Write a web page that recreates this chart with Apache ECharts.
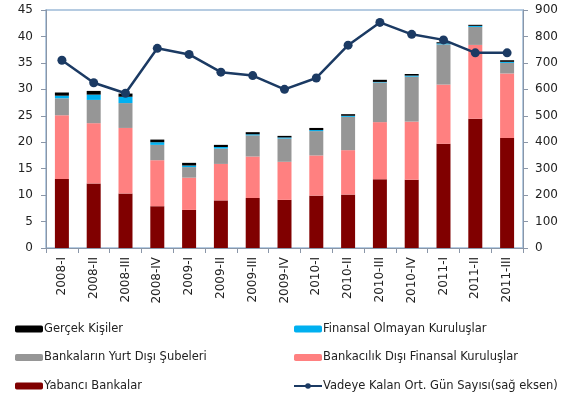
<!DOCTYPE html>
<html>
<head>
<meta charset="utf-8">
<script src="https://cdn.jsdelivr.net/npm/echarts@6/dist/echarts.min.js"></script>
<style>
  html, body { margin: 0; padding: 0; background: #fff; }
  #chart { width: 565px; height: 398px; }
</style>
</head>
<body>
<div id="chart"></div>
<script>
// Quarterly periods
const categories = ['2008-I','2008-II','2008-III','2008-IV','2009-I','2009-II','2009-III','2009-IV',
                    '2010-I','2010-II','2010-III','2010-IV','2011-I','2011-II','2011-III'];

// Stacked components (left axis)
const yabanciBankalar   = [13.05, 12.2, 10.3, 7.9, 7.2, 9.0, 9.45, 9.1, 9.9, 10.1, 13.0, 12.9, 19.7, 24.45, 20.8];
const bankacilikDisi    = [12.05, 11.4, 12.4, 8.7, 6.1, 6.9, 7.85, 7.2, 7.6, 8.4, 10.8, 11.0, 11.2, 13.95, 12.2];
const yurtDisiSubeler   = [3.2, 4.4, 4.7, 2.9, 2.0, 2.9, 4.0, 4.4, 4.6, 6.3, 7.5, 8.5, 7.6, 3.4, 2.0];
const finansalOlmayan   = [0.5, 1.0, 1.2, 0.5, 0.3, 0.3, 0.2, 0.2, 0.2, 0.2, 0.1, 0.2, 0.2, 0.2, 0.2];
const gercekKisiler     = [0.6, 0.7, 0.6, 0.5, 0.5, 0.4, 0.4, 0.3, 0.4, 0.3, 0.4, 0.3, 0.2, 0.2, 0.3];

// Average days to maturity (right axis)
const vadeyeKalanGun    = [710, 625, 585, 755, 732, 665, 652, 600, 643, 767, 853, 808, 787, 738, 738];

const FONT = '"DejaVu Sans", sans-serif';
const chart = echarts.init(document.getElementById('chart'), null, { renderer: 'canvas' });

const axisLineStyle = { color: '#8a96a8', width: 1 };
const legendText = { fontFamily: FONT, fontSize: 11.5, color: '#222', padding: [0, 0, 0, -4] };

function barSeries(name, data, color) {
  return {
    name, type: 'bar', stack: 'total', data,
    barWidth: '44%',
    itemStyle: { color },
    emphasis: { disabled: true }
  };
}

chart.setOption({
  animation: false,
  textStyle: { fontFamily: FONT },
  grid: {
    left: 46, right: 42, top: 10, bottom: 150,
    show: true, borderColor: '#9dbbd8', borderWidth: 1.5
  },
  legend: [
    {
      orient: 'vertical', left: 15, top: 323, itemGap: 16.5, padding: 0,
      itemWidth: 28, itemHeight: 7,
      textStyle: legendText,
      data: ['Gerçek Kişiler', 'Bankaların Yurt Dışı Şubeleri', 'Yabancı Bankalar']
    },
    {
      orient: 'vertical', left: 293, top: 323, itemGap: 16.5, padding: 0,
      itemWidth: 28, itemHeight: 7,
      textStyle: legendText,
      data: ['Finansal Olmayan Kuruluşlar', 'Bankacılık Dışı Finansal Kuruluşlar',
             'Vadeye Kalan Ort. Gün Sayısı(sağ eksen)']
    }
  ],
  xAxis: {
    type: 'category',
    data: categories,
    axisLine: { lineStyle: axisLineStyle },
    axisTick: { show: true, alignWithLabel: false, lineStyle: axisLineStyle, length: 5 },
    axisLabel: { rotate: 90, fontSize: 12, color: '#222', fontFamily: FONT, margin: 9 }
  },
  yAxis: [
    {
      type: 'value', min: 0, max: 45, interval: 5,
      axisLine: { show: true, lineStyle: axisLineStyle },
      axisTick: { show: true, lineStyle: axisLineStyle, length: 5 },
      splitLine: { show: false },
      axisLabel: { fontSize: 12, color: '#222', fontFamily: FONT, margin: 13 }
    },
    {
      type: 'value', min: 0, max: 900, interval: 100,
      axisLine: { show: true, lineStyle: axisLineStyle },
      axisTick: { show: true, lineStyle: axisLineStyle, length: 5 },
      splitLine: { show: false },
      axisLabel: { fontSize: 12, color: '#222', fontFamily: FONT, margin: 12 }
    }
  ],
  series: [
    barSeries('Yabancı Bankalar', yabanciBankalar, '#800000'),
    barSeries('Bankacılık Dışı Finansal Kuruluşlar', bankacilikDisi, '#ff8080'),
    barSeries('Bankaların Yurt Dışı Şubeleri', yurtDisiSubeler, '#969696'),
    barSeries('Finansal Olmayan Kuruluşlar', finansalOlmayan, '#00b0f0'),
    barSeries('Gerçek Kişiler', gercekKisiler, '#000000'),
    {
      name: 'Vadeye Kalan Ort. Gün Sayısı(sağ eksen)',
      type: 'line', yAxisIndex: 1, data: vadeyeKalanGun,
      symbol: 'circle', symbolSize: 9,
      lineStyle: { color: '#1b3a63', width: 2.5 },
      itemStyle: { color: '#1b3a63' },
      emphasis: { disabled: true },
      z: 5
    }
  ]
});
</script>
</body>
</html>
